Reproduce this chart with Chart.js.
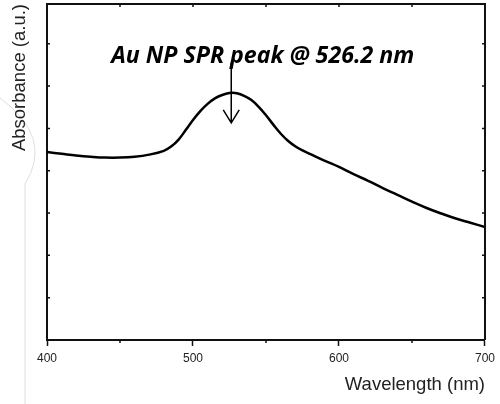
<!DOCTYPE html>
<html>
<head>
<meta charset="utf-8">
<script src="https://cdn.jsdelivr.net/npm/chart.js@4.4.1/dist/chart.umd.min.js"></script>
<style>
    html, body { margin: 0; padding: 0; background: #fff; }
    #box { width: 500px; height: 404px; }
</style>
</head>
<body>
<div id="box"><canvas id="grafAbs"></canvas></div>
<script>
// wavelength (nm) and absorbance (a.u.)
const wavelength = [400, 410, 420, 430, 440, 450, 460, 470, 480, 485, 490, 495, 500, 505, 510, 515, 520, 526,
    530, 535, 540, 545, 550, 555, 560, 565, 570, 575, 580, 590, 600, 610, 620, 630, 640, 650,
    660, 670, 680, 690, 700];
const absorbance = [4.44, 4.40, 4.36, 4.33, 4.31, 4.31, 4.33, 4.38, 4.47, 4.57, 4.73, 4.96, 5.20, 5.41, 5.58, 5.71, 5.79, 5.84,
    5.83, 5.77, 5.67, 5.51, 5.31, 5.09, 4.88, 4.71, 4.58, 4.48, 4.40, 4.24, 4.09, 3.92, 3.76, 3.59, 3.43, 3.27,
    3.12, 2.99, 2.87, 2.77, 2.67];

const xTicks = [400, 500, 600, 700];
const xMinor = [450, 550, 650];
const peakLabel = 'Au NP SPR peak @ 526.2 nm';
const peakPos = 526.2;

const puntos = wavelength.map((w, i) => ({ x: w, y: absorbance[i] }));

// marco, ticks internos y la flecha del pico
const marco = {
    id: 'marco',
    beforeDraw(chart) {
        const c = chart.ctx;
        c.save();
        c.strokeStyle = '#dedede';
        c.lineWidth = 1;
        c.beginPath();
        c.moveTo(0, 98);
        c.quadraticCurveTo(54, 138, 25, 184);
        c.lineTo(25, 404);
        c.stroke();
        c.restore();
    },
    afterDraw(chart) {
        const c = chart.ctx;
        const a = chart.chartArea;
        const sx = chart.scales.x;
        const sy = chart.scales.y;
        c.save();
        c.strokeStyle = '#111';
        c.lineWidth = 2;
        c.beginPath();
        c.moveTo(a.left, a.top);
        c.lineTo(a.right, a.top);
        c.lineTo(a.right, a.bottom);
        c.stroke();

        c.lineWidth = 1.5;
        c.beginPath();
        sy.ticks.forEach(t => {
            const py = sy.getPixelForValue(t.value);
            c.moveTo(a.left, py); c.lineTo(a.left + 3, py);
            c.moveTo(a.right, py); c.lineTo(a.right - 3, py);
        });
        [450, 500, 550, 600, 650].forEach(v => {
            const px = sx.getPixelForValue(v);
            c.moveTo(px, a.top); c.lineTo(px, a.top + 3);
        });
        xMinor.forEach(v => {
            const px = sx.getPixelForValue(v);
            c.moveTo(px, a.bottom); c.lineTo(px, a.bottom + 3);
        });
        c.stroke();

        // flecha
        const ax = sx.getPixelForValue(peakPos);
        const y0 = sy.getPixelForValue(6.55);
        const y1 = sy.getPixelForValue(5.13);
        c.strokeStyle = '#000';
        c.lineWidth = 1.5;
        c.beginPath();
        c.moveTo(ax, y0); c.lineTo(ax, y1);
        c.moveTo(ax - 8, y1 - 13); c.lineTo(ax, y1); c.lineTo(ax + 8, y1 - 13);
        c.stroke();

        // texto del pico, ajustado al ancho del original
        const x0 = sx.getPixelForValue(444);
        const x1 = sx.getPixelForValue(652);
        c.font = 'italic bold 20px "Open Sans"';
        const size = 20 * (x1 - x0) / c.measureText(peakLabel).width;
        c.font = 'italic bold ' + size.toFixed(1) + 'px "Open Sans"';
        c.fillStyle = '#000';
        c.textAlign = 'left';
        c.textBaseline = 'alphabetic';
        c.fillText(peakLabel, x0, sy.getPixelForValue(6.55));
        c.restore();
    }
};

const config = {
    type: 'line',
    data: {
        datasets: [{
            data: puntos,
            borderColor: '#000',
            borderWidth: 2.5,
            pointRadius: 0,
            tension: 0.4,
            fill: false
        }]
    },
    options: {
        responsive: true,
        maintainAspectRatio: false,
        animation: false,
        layout: { padding: { left: 0, right: 12, top: 4, bottom: 0 } },
        plugins: {
            legend: { display: false },
            tooltip: { enabled: false }
        },
        scales: {
            x: {
                type: 'linear',
                min: 400,
                max: 700,
                afterBuildTicks: (scale) => { scale.ticks = xTicks.map(v => ({ value: v })); },
                afterFit: (scale) => { scale.height = 64; },
                grid: { display: true, drawOnChartArea: false, tickLength: 6, tickColor: '#111', tickWidth: 1.5 },
                border: { display: true, color: '#111', width: 2 },
                ticks: {
                    color: '#222',
                    padding: 5,
                    maxRotation: 0,
                    font: { family: 'Liberation Sans', size: 12 }
                },
                title: {
                    display: true,
                    text: 'Wavelength (nm)',
                    align: 'end',
                    color: '#222',
                    padding: { top: 0, bottom: 8 },
                    font: { family: 'Liberation Sans', size: 18.5 }
                }
            },
            y: {
                min: 0,
                max: 7.94,
                afterBuildTicks: (scale) => {
                    const t = [];
                    for (let v = 0; v <= 7; v++) t.push({ value: v });
                    scale.ticks = t;
                },
                afterFit: (scale) => { scale.width = 47; },
                grid: { display: false },
                border: { display: true, color: '#111', width: 2 },
                ticks: { display: false },
                title: {
                    display: true,
                    text: 'Absorbance (a.u.)',
                    align: 'end',
                    color: '#222',
                    padding: { top: 9, bottom: 0 },
                    font: { family: 'Liberation Sans', size: 18.5 }
                }
            }
        }
    },
    plugins: [marco]
};

const ctx = document.getElementById('grafAbs').getContext('2d');
window.absChart = new Chart(ctx, config);
</script>
</body>
</html>
